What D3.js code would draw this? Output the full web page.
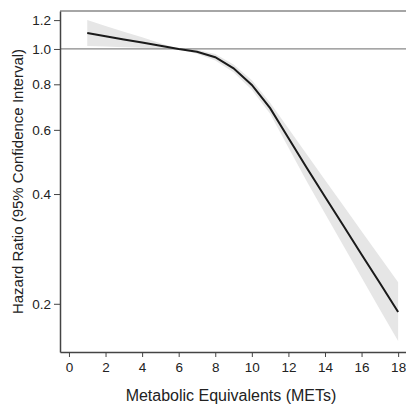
<!DOCTYPE html>
<html>
<head>
<meta charset="utf-8">
<script src="https://cdn.jsdelivr.net/npm/d3@7"></script>
<style>
  body { margin: 0; background: #fff; }
  text { font-family: "Liberation Sans", Arial, sans-serif; fill: #222; }
</style>
</head>
<body>
<script>
// values
var mets  = [1, 2, 3, 4, 5, 6, 7, 8, 9, 10, 11, 12, 13, 14, 15, 16, 17, 18];
var hr    = [1.106, 1.084, 1.062, 1.041, 1.020, 1.0, 0.983, 0.949, 0.885, 0.797, 0.688, 0.570, 0.472, 0.393, 0.328, 0.273, 0.228, 0.190];
var upper = [1.200, 1.157, 1.115, 1.076, 1.037, 1.0, 0.995, 0.968, 0.907, 0.821, 0.712, 0.605, 0.514, 0.437, 0.372, 0.316, 0.269, 0.229];
var lower = [1.019, 1.015, 1.011, 1.008, 1.004, 1.0, 0.971, 0.930, 0.863, 0.773, 0.664, 0.537, 0.434, 0.354, 0.289, 0.236, 0.193, 0.158];
var xTicks = [0, 2, 4, 6, 8, 10, 12, 14, 16, 18];
var yTicks = [0.2, 0.4, 0.6, 0.8, 1.0, 1.2];

var W = 406, H = 405;
var pLeft = 60, pRight = 406, pTop = 11, pBottom = 352;

var svg = d3.select("body").append("svg")
	.attr("width", W)
	.attr("height", H);

var x = d3.scaleLinear().domain([-0.49, 18.43]).range([pLeft, pRight]);
var y = d3.scaleLog().domain([0.1475, 1.271]).range([pBottom, pTop]);

var rows = mets.map(function(m, i) {
	return {m: m, hr: hr[i], lo: lower[i], hi: upper[i]};
});

// confidence band
svg.append("path")
	.datum(rows)
	.attr("fill", "#e6e6e6")
	.attr("d", d3.area()
		.x(function(d) { return x(d.m); })
		.y0(function(d) { return y(d.lo); })
		.y1(function(d) { return y(d.hi); }));

// reference line at 1.0
svg.append("line")
	.attr("x1", pLeft).attr("x2", pRight)
	.attr("y1", y(1)).attr("y2", y(1))
	.attr("stroke", "#888")
	.attr("stroke-width", 1.3);

// top frame line
svg.append("line")
	.attr("x1", pLeft).attr("x2", pRight)
	.attr("y1", pTop).attr("y2", pTop)
	.attr("stroke", "#888")
	.attr("stroke-width", 1.3);

// hazard ratio line
svg.append("path")
	.datum(rows)
	.attr("fill", "none")
	.attr("stroke", "#1a1a1a")
	.attr("stroke-width", 2)
	.attr("d", d3.line()
		.x(function(d) { return x(d.m); })
		.y(function(d) { return y(d.hr); }));

// axes
var xAxis = svg.append("g")
	.attr("transform", "translate(0," + pBottom + ")")
	.call(d3.axisBottom(x).tickValues(xTicks).tickSize(5).tickSizeOuter(0).tickPadding(5));

var yAxis = svg.append("g")
	.attr("transform", "translate(" + pLeft + ",0)")
	.call(d3.axisLeft(y).tickValues(yTicks).tickSize(6).tickSizeOuter(0).tickPadding(3)
		.tickFormat(d3.format(".1f")));

[xAxis, yAxis].forEach(function(g) {
	g.select(".domain").attr("stroke", "#444").attr("stroke-width", 1.5);
	g.selectAll(".tick line").attr("stroke", "#444");
	g.selectAll(".tick text")
		.style("font-size", "13.5px")
		.style("font-family", "'Liberation Sans', Arial, sans-serif")
		.attr("fill", "#222");
});

// axis titles
svg.append("text")
	.attr("x", 231)
	.attr("y", 401)
	.attr("text-anchor", "middle")
	.style("font-size", "16px")
	.text("Metabolic Equivalents (METs)");

svg.append("text")
	.attr("transform", "translate(23," + ((pTop + pBottom) / 2) + ") rotate(-90)")
	.attr("text-anchor", "middle")
	.style("font-size", "15px")
	.text("Hazard Ratio (95% Confidence Interval)");
</script>
</body>
</html>
